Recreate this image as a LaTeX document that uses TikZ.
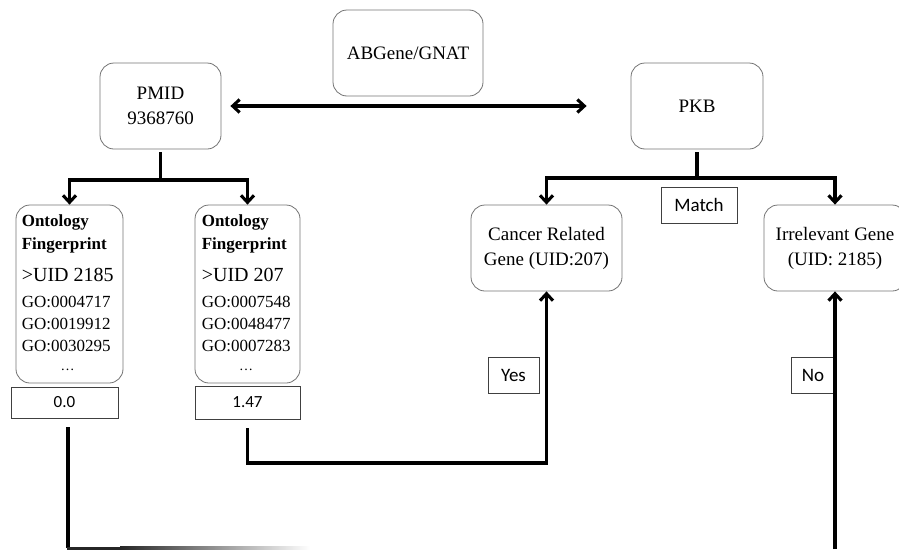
\documentclass[tikz,border=0pt]{standalone}
\usepackage{fontspec}
\setmainfont{Liberation Serif}
\newfontfamily\labelfont{Carlito}
\usetikzlibrary{%
  arrows.meta,%
  positioning%
}
\tikzset{barb/.tip={Straight Barb[length=7pt,width=13pt]}}

\begin{document}
\begin{tikzpicture}[x=1pt,y=-1pt,
    roundbox/.style={draw=black!55, line width=.8pt, rounded corners=14pt,
      align=center, inner sep=0pt, font=\fontsize{19}{25}\selectfont},
    labelbox/.style={draw=black!75, line width=.8pt, inner sep=0pt,
      font=\labelfont\fontsize{19}{22}\selectfont},
    scorebox/.style={labelbox, font=\labelfont\fontsize{17}{20}\selectfont},
    goterms/.style={anchor=north west, inner sep=0pt,
      font=\fontsize{17}{22}\selectfont},
    trunk/.style={line width=3.1pt},
    conn/.style={trunk, -barb}
  ]

    \useasboundingbox (0,0) rectangle (899,549);

    %%%%%%%%%%%%%%%%
    %% top row
    \node[roundbox, minimum width=150pt, minimum height=86pt] (gnat) at (408,53) {ABGene/GNAT};
    \node[roundbox, minimum width=121pt, minimum height=86pt] (pmid) at (160.5,106) {PMID\\9368760};
    \node[roundbox, minimum width=132pt, minimum height=86pt] (pkb) at (697,106) {PKB};

    %% pmid <-> pkb
    \draw[trunk, barb-barb, shorten <=9pt, shorten >=44pt] (pmid.east) -- (pkb.west);

    %%%%%%%%%%%%%%%%
    %% fingerprints
    \node[roundbox, minimum width=107pt, minimum height=178pt] (ofa) at (69.5,294) {};
    \node[roundbox, minimum width=105pt, minimum height=178pt] (ofb) at (247.5,294) {};

    \node[goterms] (ofatext) at ([shift={(6pt,-6pt)}]ofa.north west) {%
      \begin{tabular}{@{}l@{}}
        \textbf{Ontology}\\[1pt]
        \textbf{Fingerprint}\\[10pt]
        {\fontsize{20}{22}\selectfont >UID 2185}\\[4pt]
        GO:0004717\\
        GO:0019912\\
        GO:0030295\\[-3pt]
        \multicolumn{1}{@{}c@{}}{\fontsize{14}{16}\selectfont\dots}
      \end{tabular}};
    \node[goterms] (ofbtext) at ([shift={(7pt,-6pt)}]ofb.north west) {%
      \begin{tabular}{@{}l@{}}
        \textbf{Ontology}\\[1pt]
        \textbf{Fingerprint}\\[10pt]
        {\fontsize{20}{22}\selectfont >UID 207}\\[4pt]
        GO:0007548\\
        GO:0048477\\
        GO:0007283\\[-3pt]
        \multicolumn{1}{@{}c@{}}{\fontsize{14}{16}\selectfont\dots}
      \end{tabular}};

    %% scores
    \node[scorebox, minimum width=107pt, minimum height=31pt] (sa) at (64.5,402.5) {0.0};
    \node[scorebox, minimum width=105pt, minimum height=33pt] (sb) at (247.5,402.5) {1.47};

    %% pmid split
    \coordinate (pbar) at (160.5,180);
    \draw[trunk, shorten <=3pt] (pmid.south) -- (pbar);
    \draw[conn] (pbar) -| (ofa.north);
    \draw[conn] (pbar) -| (ofb.north);

    %%%%%%%%%%%%%%%%
    %% genes
    \node[roundbox, minimum width=151pt, minimum height=86pt] (cancer) at (546.5,248) {Cancer Related\\Gene (UID:207)};
    \node[roundbox, minimum width=142pt, minimum height=86pt] (irrel) at (835,248) {Irrelevant Gene\\(UID: 2185)};
    \node[labelbox, minimum width=76pt, minimum height=36pt] (match) at (699,205) {Match};

    %% pkb split
    \coordinate (kbar) at (697,178);
    \draw[trunk, shorten <=3pt] (pkb.south) -- (kbar);
    \draw[conn] (kbar) -| (cancer.north);
    \draw[conn] (kbar) -| (irrel.north);

    %%%%%%%%%%%%%%%%
    %% yes / no
    \node[labelbox, minimum width=51pt, minimum height=36pt] (yes) at (513.5,375) {Yes};
    \node[labelbox, minimum width=44pt, minimum height=36pt] (no) at (813,375) {No};

    %% 1.47 -> cancer related
    \coordinate (yesbar) at (546.5,463);
    \draw[conn, shorten <=9pt] (sb.south) |- (yesbar) -- (cancer.south);

    %% 0.0 -> irrelevant (bottom run fades out)
    \coordinate (sabot) at (68,548);
    \draw[trunk, shorten <=9pt] (sa.south -| sabot) -- (sabot);
    \fill[black!85] (66.5,546.5) rectangle (120,549.5);
    \shade[left color=black!85, right color=white] (120,546.5) rectangle (310,549.5);
    \coordinate (nobot) at (835,549);
    \draw[conn] (nobot) -- (irrel.south);

\end{tikzpicture}
\end{document}
